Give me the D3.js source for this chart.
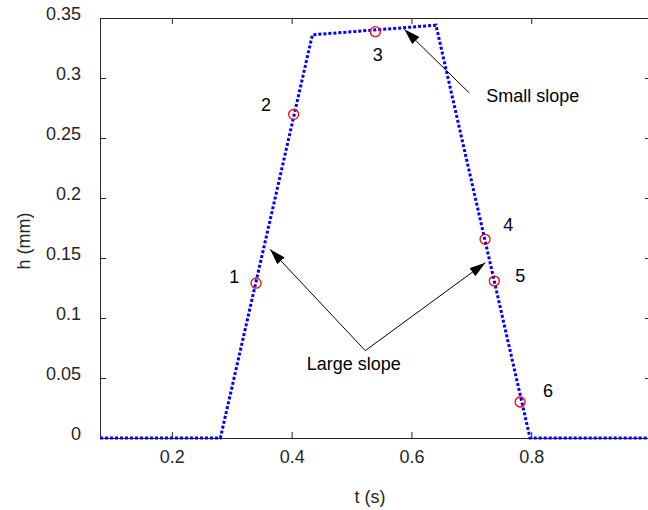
<!DOCTYPE html>
<html>
<head>
<meta charset="utf-8">
<script src="https://cdn.jsdelivr.net/npm/d3@7"></script>
<style>
  body { margin: 0; background: #fff; }
  svg { display: block; font-family: "Liberation Sans", Arial, sans-serif; }
</style>
</head>
<body>
<div id="chart"></div>
<script>
// profile h(t)
const lineT = [0.08, 0.281, 0.4346, 0.641, 0.798, 1.0];
const lineH = [0, 0, 0.336, 0.344, 0, 0];

// sample points (red circles)
const markT = [0.3406, 0.4033, 0.5397, 0.7229, 0.7384, 0.7815];
const markH = [0.129, 0.2697, 0.3386, 0.1656, 0.1308, 0.030];
const markLabels = ["1", "2", "3", "4", "5", "6"];
const labelT = [0.3043, 0.3573, 0.5436, 0.7618, 0.7818, 0.8280];
const labelH = [0.1344, 0.2781, 0.3192, 0.1783, 0.1358, 0.0392];

const xTicks = [0.2, 0.4, 0.6, 0.8];
const yTicks = [0, 0.05, 0.1, 0.15, 0.2, 0.25, 0.3, 0.35];

// annotations (data units)
const smallSlope = { text: "Small slope", t: 0.7249, h: 0.2803, from: [0.6967, 0.2875], to: [0.5881, 0.3406] };
const largeSlope = { text: "Large slope", t: 0.5038, h: 0.0567, from: [0.5229, 0.0728], to: [[0.3639, 0.1573], [0.7234, 0.1461]] };

const W = 648, H = 510;
const margin = { top: 18, right: -3, bottom: 72, left: 100 };
const width = W - margin.left - margin.right,
    height = H - margin.top - margin.bottom;

const svg = d3.select("#chart")
    .append("svg")
    .attr("width", W)
    .attr("height", H);

const g = svg.append("g")
    .attr("transform", "translate(" + margin.left + "," + margin.top + ")");

const x = d3.scaleLinear().domain([0.08, 1.0]).range([0, width]);
const y = d3.scaleLinear().domain([0, 0.35]).range([height, 0]);

const axisColor = "#262626";

// axes, MATLAB box style with inward ticks
const gx = g.append("g")
    .attr("transform", "translate(0," + height + ")")
    .call(d3.axisBottom(x).tickValues(xTicks).tickSizeInner(-6).tickSizeOuter(0).tickFormat(d3.format("")));
gx.selectAll("text").attr("y", 12).attr("dy", "0.71em");

const gy = g.append("g")
    .call(d3.axisLeft(y).tickValues(yTicks).tickSizeInner(-6).tickSizeOuter(0).tickFormat(d3.format("")));
gy.selectAll("text").attr("x", -19).attr("dy", "0.1em");

g.append("g")
    .call(d3.axisTop(x).tickValues(xTicks).tickSizeInner(-6).tickSizeOuter(0).tickFormat(""));
g.append("g")
    .attr("transform", "translate(" + width + ",0)")
    .call(d3.axisRight(y).tickValues(yTicks).tickSizeInner(-6).tickSizeOuter(0).tickFormat(""));

g.selectAll(".domain, .tick line").attr("stroke", axisColor);
g.selectAll(".tick text").attr("fill", axisColor).style("font-size", "18px");

// axis labels
g.append("text")
    .attr("x", 370 - margin.left)
    .attr("y", 503 - margin.top)
    .attr("text-anchor", "middle")
    .attr("fill", axisColor)
    .style("font-size", "18px")
    .text("t (s)");

g.append("text")
    .attr("transform", "translate(" + (30 - margin.left) + "," + (241 - margin.top) + ") rotate(-90)")
    .attr("text-anchor", "middle")
    .attr("fill", axisColor)
    .style("font-size", "18px")
    .text("h (mm)");

// the profile line
const lineData = lineT.map((t, i) => [t, lineH[i]]);
g.append("path")
    .datum(lineData)
    .attr("fill", "none")
    .attr("stroke", "#0000ff")
    .attr("stroke-width", 3)
    .attr("stroke-dasharray", "3,2")
    .attr("d", d3.line().x(d => x(d[0])).y(d => y(d[1])));

// markers
g.selectAll(".mark")
    .data(markT.map((t, i) => [t, markH[i]]))
    .enter()
    .append("circle")
    .attr("cx", d => x(d[0]))
    .attr("cy", d => y(d[1]))
    .attr("r", 5)
    .attr("fill", "none")
    .attr("stroke", "#ff0000")
    .attr("stroke-width", 1.3);

g.selectAll(".mlabel")
    .data(markLabels)
    .enter()
    .append("text")
    .attr("x", (d, i) => x(labelT[i]))
    .attr("y", (d, i) => y(labelH[i]))
    .attr("text-anchor", "middle")
    .attr("dy", "0.36em")
    .style("font-size", "18px")
    .attr("fill", "#000")
    .text(d => d);

// arrows
svg.append("defs").append("marker")
    .attr("id", "head")
    .attr("viewBox", "0 0 16 10")
    .attr("refX", 16)
    .attr("refY", 5)
    .attr("markerWidth", 16)
    .attr("markerHeight", 10)
    .attr("markerUnits", "userSpaceOnUse")
    .attr("orient", "auto")
    .append("path")
    .attr("d", "M0,0L16,5L0,10Z")
    .attr("fill", "#000");

function arrow(from, to) {
    g.append("line")
        .attr("x1", x(from[0])).attr("y1", y(from[1]))
        .attr("x2", x(to[0])).attr("y2", y(to[1]))
        .attr("stroke", "#000")
        .attr("stroke-width", 1)
        .attr("marker-end", "url(#head)");
}

arrow(smallSlope.from, smallSlope.to);
largeSlope.to.forEach(tip => arrow(largeSlope.from, tip));

g.append("text")
    .attr("x", x(smallSlope.t))
    .attr("y", y(smallSlope.h))
    .style("font-size", "18px")
    .text(smallSlope.text);

g.append("text")
    .attr("x", x(largeSlope.t))
    .attr("y", y(largeSlope.h))
    .attr("text-anchor", "middle")
    .style("font-size", "18px")
    .text(largeSlope.text);
</script>
</body>
</html>
